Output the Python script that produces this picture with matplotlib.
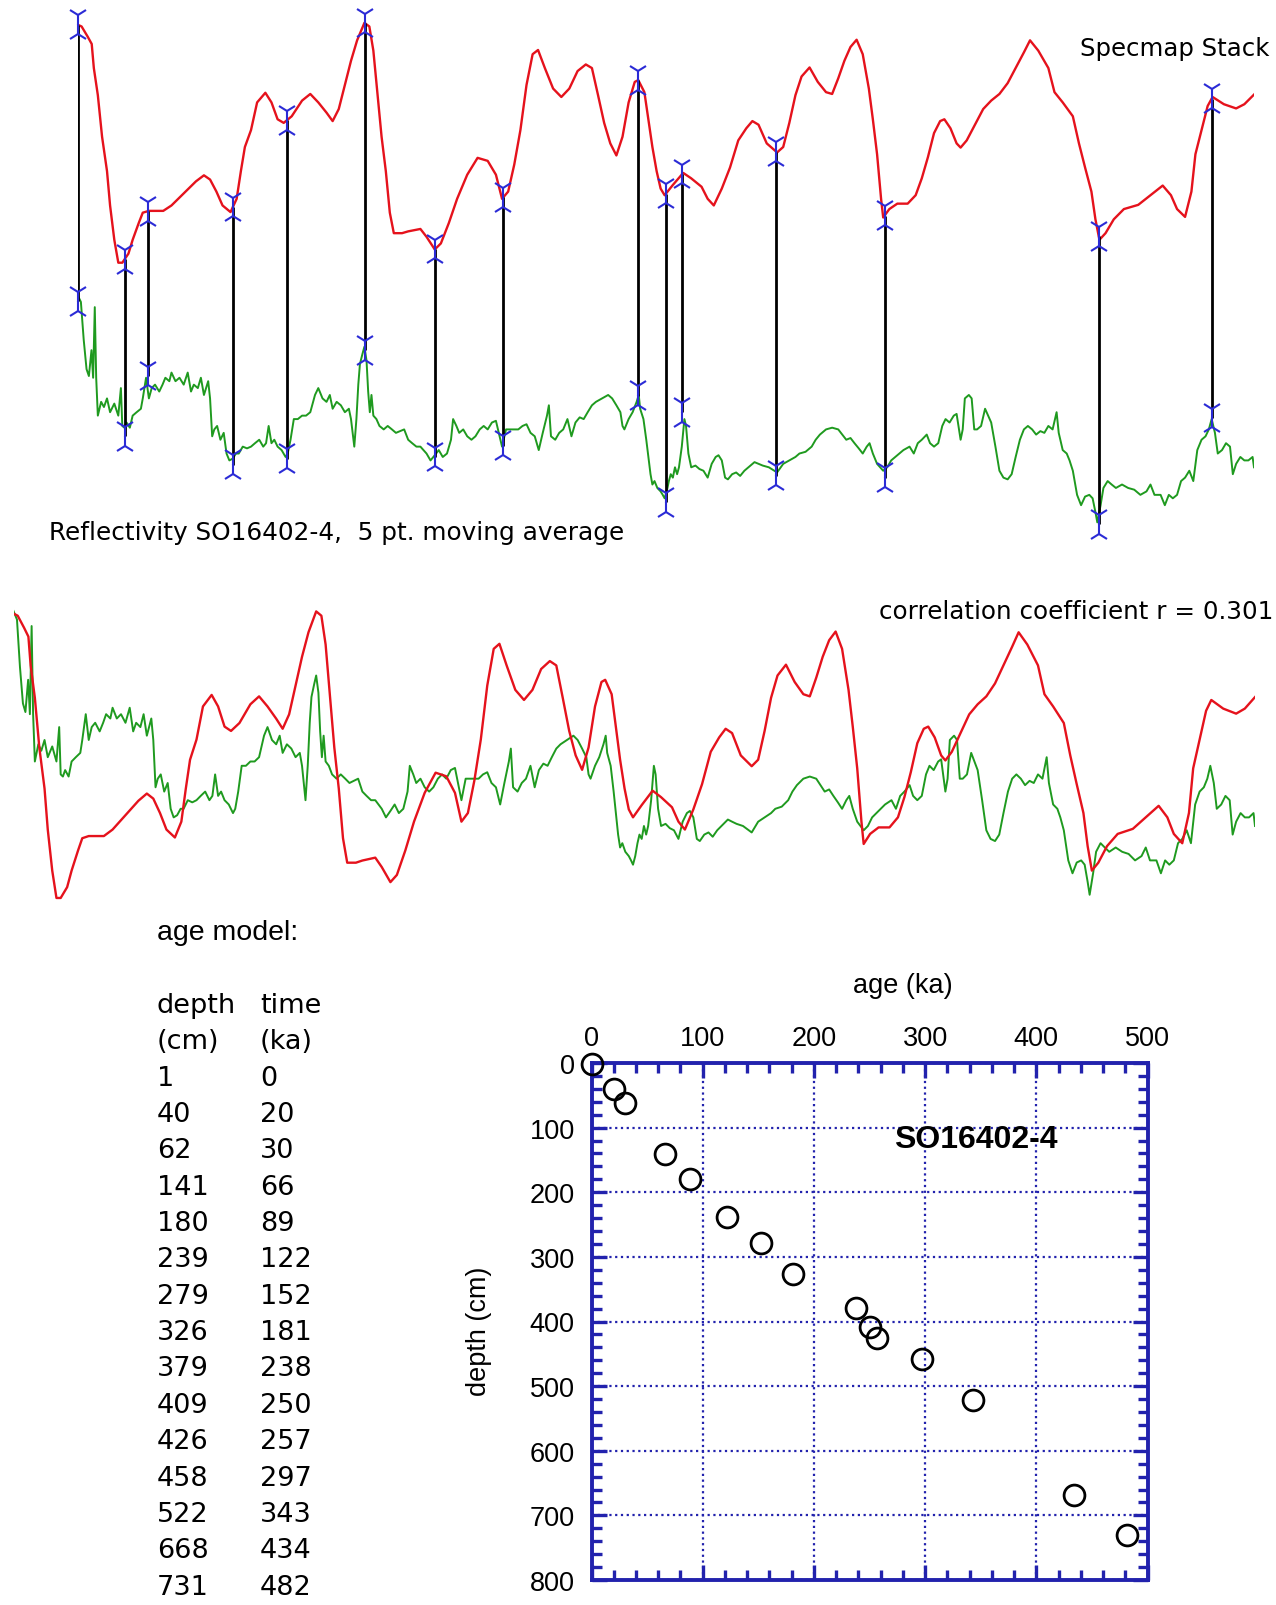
import numpy as np
import matplotlib
matplotlib.use("Agg")
import matplotlib.pyplot as plt
from matplotlib.ticker import MultipleLocator
from matplotlib.transforms import offset_copy

plt.rcParams["font.family"] = ["DejaVu Sans"]

# ---------------------------------------------------------------- data
# age model of core SO16402-4 (tie points)
tie_depth_cm = [1, 40, 62, 141, 180, 239, 279, 326, 379, 409, 426, 458, 522, 668, 731]
tie_age_ka = [0, 20, 30, 66, 89, 122, 152, 181, 238, 250, 257, 297, 343, 434, 482]
# reflectivity level at each tie point
tie_refl = [6.42, 2.50, 4.25, 1.68, 1.85, 5.00, 1.90, 2.23, 3.68, 0.58, 3.20, 1.35, 1.30, -0.05, 3.03]

# SPECMAP stack (standardised d18O, interglacial up)
spec_age = [0.0, 1.7, 4.3, 6.0, 6.9, 8.6, 10.4, 12.5, 13.8, 15.6,
            17.3, 19.0, 21.6, 23.4, 26.0, 27.7, 30.3, 36.4, 39.9, 45.1,
            50.3, 53.7, 56.3, 59.0, 61.6, 65.0, 67.6, 69.4, 71.1, 73.7,
            76.3, 79.8, 82.4, 85.0, 87.6, 91.0, 95.4, 98.9, 102.3, 105.8,
            108.4, 111.0, 113.6, 116.2, 118.8, 121.9, 124.0, 125.7, 127.5, 129.2,
            131.0, 132.7, 134.4, 137.9, 140.5, 145.7, 148.3, 151.8, 154.4, 157.8,
            161.3, 165.6, 170.0, 174.3, 177.8, 180.4, 183.0, 185.6, 188.2, 190.8,
            193.4, 195.7, 198.6, 202.1, 205.6, 209.0, 212.5, 216.0, 218.6, 221.2,
            223.8, 226.4, 229.0, 231.6, 234.2, 236.8,
            238.3, 240.9, 242.6, 244.3, 246.1, 247.8, 249.5, 253.0, 257.4, 260.8,
            265.2, 267.8, 270.4, 273.8, 277.3, 280.8, 284.2, 286.8, 289.4, 292.9,
            297.3, 299.9, 302.5, 305.1, 307.7, 311.1, 314.6, 318.1, 320.7, 323.3,
            325.9, 328.5, 331.1, 333.7, 336.3, 338.0, 339.8, 341.5, 342.4, 345.0,
            348.4, 352.8, 356.2, 358.8, 361.4, 364.0, 366.6, 368.4, 371.0, 373.6,
            375.3, 377.9, 381.4, 384.9, 388.3, 391.8, 395.3, 398.7, 402.2, 404.8,
            408.3, 412.6, 415.2, 418.7, 423.0, 425.6, 428.2, 430.9, 432.6, 434.3,
            436.9, 440.4, 444.7, 450.8, 456.0, 461.2, 464.7, 467.3, 470.7, 473.4,
            475.1, 477.7, 480.3, 482.4, 487.2, 492.4, 495.9, 500.0]
spec_value = [2.06, 2.03, 1.86, 1.74, 1.34, 0.89, 0.20, -0.37, -0.94, -1.51,
              -1.89, -1.89, -1.74, -1.51, -1.23, -1.06, -1.03, -1.03, -0.94, -0.74,
              -0.54, -0.44, -0.51, -0.71, -0.94, -1.05, -0.83, -0.37, 0.03, 0.31,
              0.77, 0.93, 0.77, 0.49, 0.43, 0.54, 0.80, 0.91, 0.77, 0.60,
              0.46, 0.66, 1.06, 1.46, 1.80, 2.09, 2.03, 1.63, 0.89, 0.20,
              -0.37, -1.06, -1.40, -1.40, -1.37, -1.33, -1.46, -1.67, -1.57, -1.23,
              -0.83, -0.43, -0.15, -0.20, -0.43, -0.83, -0.71, -0.26, 0.31, 1.06,
              1.57, 1.64, 1.34, 1.00, 0.86, 1.00, 1.29, 1.40, 1.34, 0.89,
              0.43, 0.09, -0.11, 0.20, 0.77, 1.11,
              1.14, 0.94, 0.49, 0.03, -0.37, -0.66, -0.77, -0.60, -0.40, -0.49,
              -0.63, -0.83, -0.94, -0.66, -0.31, 0.14, 0.34, 0.46, 0.40, 0.09,
              -0.06, 0.03, 0.43, 0.89, 1.20, 1.35, 1.11, 0.94, 0.91, 1.17,
              1.46, 1.69, 1.81, 1.57, 1.00, 0.49, -0.09, -0.83, -1.14, -1.00,
              -0.91, -0.91, -0.77, -0.49, -0.14, 0.26, 0.46, 0.49, 0.34, 0.09,
              0.02, 0.14, 0.40, 0.66, 0.80, 0.91, 1.09, 1.34, 1.60, 1.80,
              1.63, 1.34, 0.94, 0.77, 0.54, 0.09, -0.31, -0.71, -1.17, -1.51,
              -1.40, -1.17, -1.00, -0.93, -0.77, -0.61, -0.77, -1.00, -1.13, -0.71,
              -0.09, 0.31, 0.71, 0.86, 0.74, 0.67, 0.74, 0.90]

# reflectivity of SO16402-4 (5 pt. moving average) on the tuned age scale
refl_age = [0.0, 1.4, 2.6, 3.8, 4.8, 5.9, 6.6, 7.3, 7.9, 8.6, 10.0, 11.2, 12.5, 13.8, 15.6,
            17.3, 18.4, 19.0, 19.9, 20.8, 22.2, 23.4, 25.1, 26.9, 27.7, 29.1, 30.3, 31.5,
            32.9, 34.7, 36.1, 37.3, 39.0, 39.9, 41.6, 43.3, 45.1, 46.8, 48.2, 49.4, 51.1,
            52.4, 53.7, 55.5, 56.3, 57.2, 58.1, 59.3, 60.7, 62.1, 63.3, 64.5, 65.9, 67.3,
            68.5, 70.2, 72.0, 73.7, 75.4, 77.2, 78.9, 80.1, 81.2, 82.4, 83.6, 85.0, 86.7,
            88.4, 89.3, 90.5, 91.9, 93.6, 95.4, 97.1, 98.9, 100.9, 102.3, 104.1, 105.8,
            107.2, 108.4, 110.1, 111.9, 113.6, 115.3, 116.2, 117.6, 118.5, 119.3, 120.0,
            121.1, 121.9, 122.8, 123.5, 124.2, 124.9, 125.7, 127.0, 128.3, 130.1, 131.8,
            133.6, 135.3, 138.8, 140.5, 142.2, 144.0, 145.7, 148.3, 150.0, 151.8, 153.5,
            155.2, 157.0, 158.7, 159.6, 161.0, 162.2, 163.9, 165.6, 167.4, 169.1, 170.9,
            172.6, 174.3, 176.1, 177.8, 179.0, 180.4, 182.1, 184.7, 187.3, 189.1, 190.8,
            192.5, 194.3, 196.0, 197.7, 199.5, 200.3, 201.2, 203.0, 204.7, 206.4, 208.2,
            209.9, 211.6, 213.4, 215.1, 216.8, 218.6, 220.3, 222.9, 225.5, 227.2, 229.0,
            230.7, 231.6, 232.4, 234.2, 235.9, 237.6, 238.5,
            239.1, 240.5, 241.7, 242.6, 243.5, 244.3, 245.2, 246.4, 247.8, 248.7, 249.5,
            250.4, 251.3, 252.1, 253.0, 253.9, 254.8, 255.6, 256.8, 257.9, 258.6, 259.6,
            260.8, 262.6, 264.3, 266.0, 267.8, 269.5, 271.2, 272.4, 273.8, 275.2, 276.4,
            278.2, 279.9, 281.6, 283.4, 285.1, 287.7, 289.4, 291.2, 293.8, 297.3, 299.9,
            302.5, 305.1, 306.8, 309.4, 312.0, 313.7, 315.5, 318.1, 320.7, 323.3, 325.0,
            326.7, 328.5, 330.2, 332.0, 333.7, 335.4, 336.6, 338.0, 339.8, 342.4, 344.1,
            345.8, 348.4, 351.0, 353.6, 355.4, 357.1, 358.8, 360.9, 362.3, 364.0, 365.8,
            367.5, 368.9, 370.6, 372.4, 373.6, 375.3, 376.2, 377.1, 378.8, 380.0, 381.1,
            382.3, 384.0, 385.7, 387.0, 388.3, 390.1, 391.8, 393.5, 395.3, 397.0, 398.7,
            400.5, 402.2, 403.9, 405.7, 407.4, 409.2, 410.9, 412.6, 414.4, 416.1, 417.0,
            418.7, 420.4, 421.6, 423.0, 424.8, 426.5, 428.2, 430.0, 431.4, 432.6, 433.4,
            434.8, 436.0, 437.8, 439.5, 441.3, 443.9, 446.5, 449.1, 451.7, 454.3, 456.0,
            457.7, 460.3, 462.1, 463.8, 465.5, 467.3, 469.0, 470.7, 472.5, 474.2, 475.9,
            477.7, 479.4, 480.8, 482.0, 483.4, 484.6, 486.4, 488.1, 489.8, 491.0, 492.4,
            494.2, 495.9, 497.6, 499.4, 500.0]
refl_value = [6.60, 6.40, 5.30, 4.45, 4.25, 5.00, 4.20, 6.25, 4.20, 3.10, 3.50, 3.35, 3.60, 3.20, 3.45,
              3.10, 3.90, 2.80, 2.75, 2.90, 2.75, 3.10, 3.20, 3.30, 3.60, 4.20, 3.60, 3.90,
              4.00, 3.80, 4.00, 4.20, 4.10, 4.35, 4.10, 4.20, 4.00, 4.35, 3.80, 4.00, 3.90,
              4.20, 3.70, 4.10, 3.60, 2.50, 2.70, 2.80, 2.40, 2.60, 2.00, 1.80, 1.85, 2.00,
              2.00, 2.20, 2.15, 2.20, 2.30, 2.40, 2.20, 2.30, 2.80, 2.30, 2.40, 2.20, 2.10,
              1.90, 2.00, 2.40, 3.00, 3.00, 3.10, 3.10, 3.20, 3.70, 3.90, 3.60, 3.50,
              3.70, 3.30, 3.50, 3.40, 3.20, 3.30, 3.00, 2.20, 3.00, 4.00, 4.60,
              4.90, 5.10, 4.70, 3.80, 3.20, 3.70, 3.10, 3.00, 2.80, 2.70, 2.80,
              2.70, 2.60, 2.70, 2.40, 2.30, 2.20, 2.20, 2.00, 1.80, 1.95, 2.10,
              1.90, 2.00, 2.40, 3.00, 2.80, 2.60, 2.70, 2.50, 2.40, 2.50, 2.70,
              2.80, 2.70, 2.90, 2.95, 2.60, 2.20, 2.70, 2.70, 2.70, 2.80, 2.85,
              2.60, 2.50, 2.10, 2.60, 3.10, 3.40, 2.50, 2.40, 2.60, 2.70, 3.00,
              2.50, 2.90, 3.05, 3.00, 3.20, 3.40, 3.50, 3.60, 3.70, 3.60, 3.40,
              3.20, 2.80, 2.70, 3.00, 3.20, 3.50, 3.70,
              3.30, 3.00, 2.40, 1.90, 1.40, 1.10, 1.20, 1.00, 0.90, 0.80, 0.70,
              0.90, 1.20, 1.40, 1.30, 1.60, 1.40, 1.60, 2.20, 3.00, 2.80, 2.00,
              1.60, 1.65, 1.55, 1.50, 1.30, 1.70, 1.90, 1.95, 1.80, 1.30, 1.25,
              1.40, 1.45, 1.35, 1.50, 1.60, 1.75, 1.70, 1.65, 1.60, 1.45, 1.70,
              1.80, 1.90, 2.00, 2.05, 2.20, 2.40, 2.55, 2.70, 2.75, 2.70, 2.55,
              2.40, 2.45, 2.30, 2.15, 2.00, 2.20, 2.30, 2.00, 1.70, 1.50, 1.60,
              1.80, 1.95, 2.10, 2.20, 2.00, 2.30, 2.40, 2.55, 2.30, 2.20, 2.30,
              2.80, 3.00, 2.90, 3.10, 3.15, 2.40, 2.70, 3.60, 3.70, 3.60, 2.70,
              2.70, 2.80, 3.30, 3.10, 2.90, 2.20, 1.50, 1.30, 1.25, 1.40, 1.90,
              2.40, 2.70, 2.80, 2.70, 2.55, 2.65, 2.60, 2.80, 2.70, 3.20, 2.60,
              2.10, 2.00, 1.80, 1.50, 0.80, 0.50, 0.75, 0.80, 0.70, 0.30, 0.00,
              0.50, 1.00, 1.20, 1.10, 1.00, 1.10, 1.00, 0.95, 0.80, 0.90, 1.10,
              0.80, 0.80, 0.50, 0.80, 0.70, 0.80, 1.20, 1.30, 1.50, 1.20, 2.10,
              2.40, 2.50, 2.70, 3.00, 2.60, 2.00, 2.10, 2.30, 2.20, 1.40, 1.70,
              1.90, 1.80, 1.80, 1.90, 1.60]

# ---------------------------------------------------------------- style
RED = "#e5121c"
GREEN = "#1f9a1f"
TIE_BLUE = "#2b2bd6"
FRAME_BLUE = "#2222ad"

W, H = 1276, 1606
fig = plt.figure(figsize=(W / 100, H / 100), dpi=100)
fig.patch.set_facecolor("white")


def rect(left, top, right, bottom):
    """Axes rectangle from pixel edges measured from the top-left corner."""
    return [left / W, 1 - bottom / H, (right - left) / W, (bottom - top) / H]


# ------------------------------------------------ panel 1: tuned records
top_rect = rect(77.6, 0, 1254, 545)
ax_spec = fig.add_axes(top_rect)
ax_refl = fig.add_axes(top_rect)
spec_lim = (-6.558, 2.486)
refl_lim = (-0.627, 15.197)
for ax, lim in ((ax_spec, spec_lim), (ax_refl, refl_lim)):
    ax.set_xlim(0, 500)
    ax.set_ylim(*lim)
    ax.axis("off")

ax_spec.plot(spec_age, spec_value, color=RED, lw=1.7)
ax_refl.plot(refl_age, refl_value, color=GREEN, lw=1.4)

# tie lines: SPECMAP level expressed in the reflectivity axis units
tie_spec = np.interp(tie_age_ka, spec_age, spec_value)
tie_spec_in_refl = refl_lim[0] + (tie_spec - spec_lim[0]) / (spec_lim[1] - spec_lim[0]) * (refl_lim[1] - refl_lim[0])
ax_refl.vlines(tie_age_ka, tie_refl, tie_spec_in_refl, color="black", lw=2.0, zorder=3)

up = offset_copy(ax_refl.transData, fig=fig, x=0, y=6.8, units="points")
down = offset_copy(ax_refl.transData, fig=fig, x=0, y=-6.8, units="points")
for yy in (tie_spec_in_refl, tie_refl):
    ax_refl.plot(tie_age_ka, yy, ls="none", marker="1", ms=14, mew=1.5,
                 color=TIE_BLUE, transform=up, zorder=4, clip_on=False)
    ax_refl.plot(tie_age_ka, yy, ls="none", marker="2", ms=14, mew=1.5,
                 color=TIE_BLUE, transform=down, zorder=4, clip_on=False)

fig.text(1270 / W, 1 - 49 / H, "Specmap Stack", ha="right", va="center", fontsize=17.6)
fig.text(49 / W, 1 - 533 / H, "Reflectivity SO16402-4,  5 pt. moving average",
         ha="left", va="center", fontsize=17.8)

# ------------------------------------------------ panel 2: overlay
mid_rect = rect(13.5, 580, 1255, 920)
ax_mrefl = fig.add_axes(mid_rect)
ax_mspec = fig.add_axes(mid_rect)
for ax, lim in ((ax_mrefl, (-0.563, 7.344)), (ax_mspec, (-2.182, 2.540))):
    ax.set_xlim(0, 500)
    ax.set_ylim(*lim)
    ax.axis("off")
ax_mrefl.plot(refl_age, refl_value, color=GREEN, lw=1.4)
ax_mspec.plot(spec_age, spec_value, color=RED, lw=1.7)

fig.text(1273 / W, 1 - 612 / H, "correlation coefficient r = 0.301",
         ha="right", va="center", fontsize=17.7)

# ------------------------------------------------ age model table
fig.text(157 / W, 1 - 933 / H, "age model:", ha="left", va="center",
         fontsize=20.5, family="Liberation Sans")
col_depth, col_time = 157 / W, 260 / W
row0, row_step = 1006.0, 36.35
header = [("depth", "time"), ("(cm)", "(ka)")]
rows = header + [(str(d), str(a)) for d, a in zip(tie_depth_cm, tie_age_ka)]
for i, (c1, c2) in enumerate(rows):
    y = 1 - (row0 + i * row_step) / H
    fig.text(col_depth, y, c1, ha="left", va="center", fontsize=19.5)
    fig.text(col_time, y, c2, ha="left", va="center", fontsize=19.5)

# ------------------------------------------------ depth-age plot
ax = fig.add_axes(rect(591.5, 1064, 1147.5, 1581))
ax.set_xlim(0, 500)
ax.set_ylim(800, 0)
ax.plot(tie_age_ka, tie_depth_cm, ls="none", marker="o", ms=15, mfc="none",
        mec="black", mew=2.0, clip_on=False, zorder=5)
for sp in ax.spines.values():
    sp.set_color(FRAME_BLUE)
    sp.set_linewidth(2.8)
ax.xaxis.set_major_locator(MultipleLocator(100))
ax.xaxis.set_minor_locator(MultipleLocator(20))
ax.yaxis.set_major_locator(MultipleLocator(100))
ax.yaxis.set_minor_locator(MultipleLocator(20))
ax.tick_params(which="both", direction="in", top=True, bottom=True, left=True, right=True,
               labeltop=True, labelbottom=False, color=FRAME_BLUE, width=2.4)
ax.tick_params(which="major", length=11, labelsize=19.5, labelfontfamily="Liberation Sans")
ax.tick_params(which="minor", length=7)
ax.tick_params(axis="x", which="major", pad=9)
ax.tick_params(axis="y", which="major", pad=12)
ax.grid(True, which="major", color=FRAME_BLUE, linestyle=(0, (1, 1.6)), linewidth=1.6)
ax.set_axisbelow(True)

ax.xaxis.set_label_position("top")
ax.set_xlabel("age (ka)", fontsize=19.5, family="Liberation Sans", va="center")
ax.xaxis.set_label_coords((903 - 591.5) / 556, (1581 - 986) / 517)
ax.set_ylabel("depth (cm)", fontsize=19.5, family="Liberation Sans", va="center")
ax.yaxis.set_label_coords((479 - 591.5) / 556, (1581 - 1331) / 517)

ax.text(346, 118, "SO16402-4", ha="center", va="center", fontsize=23,
        fontweight="bold", family="Liberation Sans")

fig.savefig("out.png", dpi=100, facecolor="white")
